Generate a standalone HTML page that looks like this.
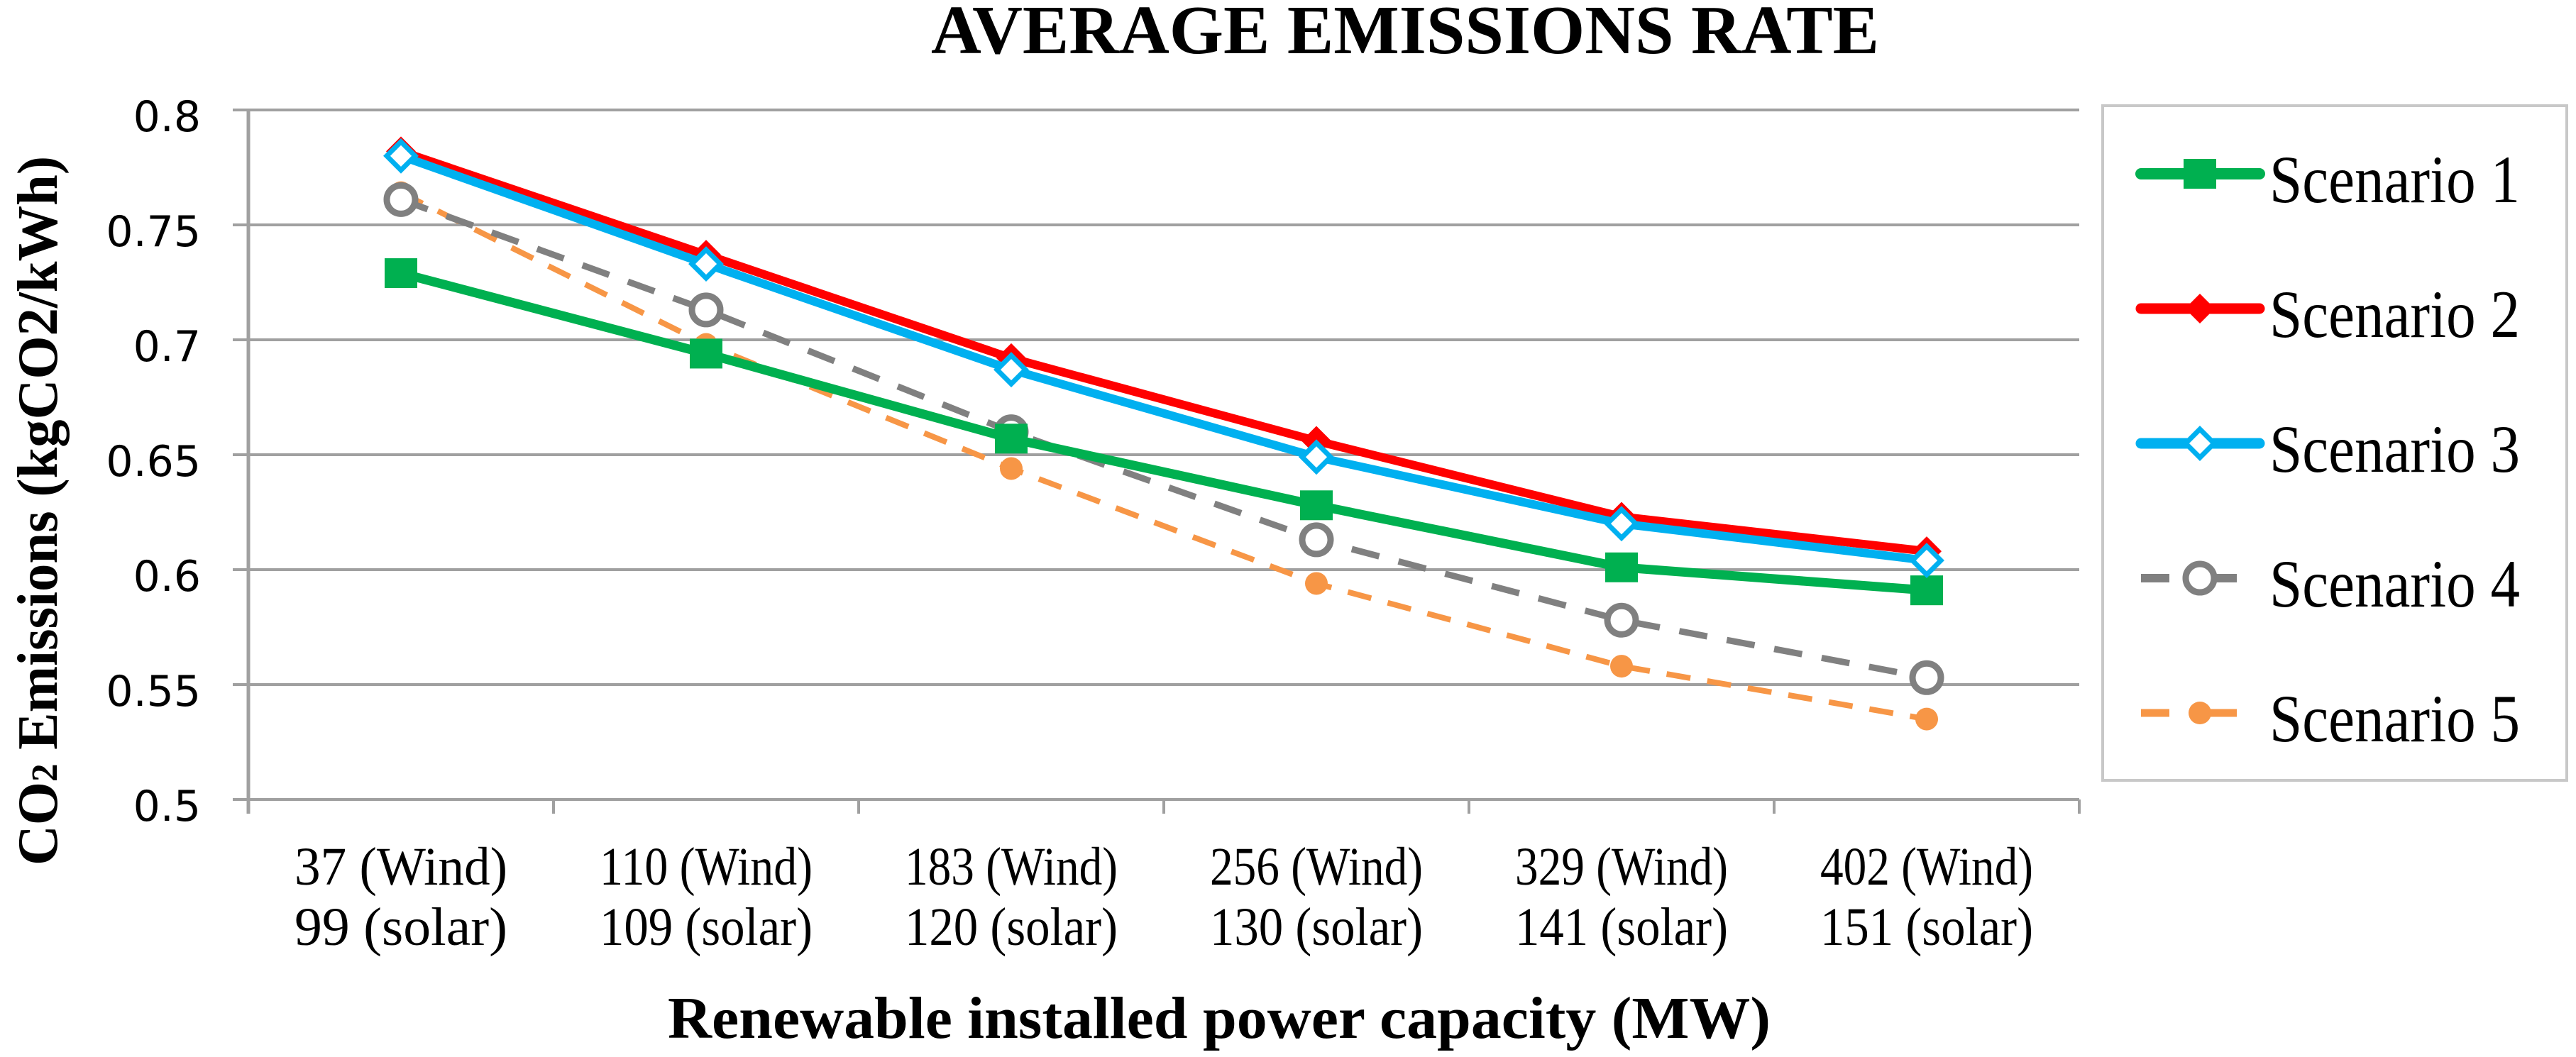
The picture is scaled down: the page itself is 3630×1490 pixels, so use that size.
<!DOCTYPE html>
<html>
<head>
<meta charset="utf-8">
<style>
  html, body { margin: 0; padding: 0; background: #ffffff; }
  svg { display: block; }
</style>
</head>
<body>
<svg id="chart" xmlns="http://www.w3.org/2000/svg" width="3630" height="1490" viewBox="0 0 3630 1490">
  <rect x="0" y="0" width="3630" height="1490" fill="#ffffff"/>
  <text x="1980" y="75" text-anchor="middle" font-family="Liberation Serif, serif" font-weight="bold" font-size="98" textLength="1336" lengthAdjust="spacingAndGlyphs">AVERAGE EMISSIONS RATE</text>
  <g id="grid"></g>
  <g id="axes"></g>
  <g id="series"></g>
  <text transform="translate(80,720) rotate(-90)" text-anchor="middle" font-family="Liberation Serif, serif" font-weight="bold" font-size="80" textLength="1000" lengthAdjust="spacingAndGlyphs">CO<tspan font-size="52">2</tspan> Emissions (kgCO2/kWh)</text>
  <text x="1718" y="1463" text-anchor="middle" font-family="Liberation Serif, serif" font-weight="bold" font-size="84" textLength="1554" lengthAdjust="spacingAndGlyphs">Renewable installed power capacity (MW)</text>
  <g id="legend"></g>
</svg>
<script>
const categoriesWind = ["37 (Wind)", "110 (Wind)", "183 (Wind)", "256 (Wind)", "329 (Wind)", "402 (Wind)"];
const categoriesSolar = ["99 (solar)", "109 (solar)", "120 (solar)", "130 (solar)", "141 (solar)", "151 (solar)"];
const yTicks = [0.5, 0.55, 0.6, 0.65, 0.7, 0.75, 0.8];
const yTickLabels = ["0.5", "0.55", "0.6", "0.65", "0.7", "0.75", "0.8"];
const seriesNames = ["Scenario 1", "Scenario 2", "Scenario 3", "Scenario 4", "Scenario 5"];
const scenario1 = [0.729, 0.694, 0.657, 0.628, 0.601, 0.591];
const scenario2 = [0.782, 0.737, 0.692, 0.656, 0.623, 0.608];
const scenario3 = [0.780, 0.733, 0.687, 0.649, 0.620, 0.604];
const scenario4 = [0.761, 0.713, 0.660, 0.613, 0.578, 0.553];
const scenario5 = [0.764, 0.698, 0.644, 0.594, 0.558, 0.535];

const NS = "http://www.w3.org/2000/svg";
const X0 = 350, X1 = 2930, YTOP = 155, YBOT = 1127, YMIN = 0.5, YMAX = 0.8;
const catW = (X1 - X0) / categoriesWind.length;
function xPos(i) { return X0 + catW * (i + 0.5); }
function yPos(v) { return YBOT - (v - YMIN) / (YMAX - YMIN) * (YBOT - YTOP); }
function mk(tag, attrs, parent) {
  const el = document.createElementNS(NS, tag);
  for (const k in attrs) el.setAttribute(k, attrs[k]);
  parent.appendChild(el);
  return el;
}

const grid = document.getElementById("grid");
const axes = document.getElementById("axes");
yTicks.forEach((t, i) => {
  const y = yPos(t);
  const gl = mk("line", {x1: 328, x2: X1, y1: y, y2: y, stroke: "#a0a0a0", "stroke-width": 4}, grid);
  
  
  const lb = mk("text", {x: 283, y: y + 30, "text-anchor": "end", "font-family": "DejaVu Sans, sans-serif", "font-size": 60, fill: "#000"}, axes);
  lb.textContent = yTickLabels[i];
  
  
});
const yAxis = mk("line", {x1: X0, x2: X0, y1: YTOP, y2: YBOT + 20, stroke: "#a0a0a0", "stroke-width": 5}, axes);


for (let i = 0; i <= categoriesWind.length; i++) {
  const x = X0 + catW * i;
  const tk = mk("line", {x1: x, x2: x, y1: YBOT, y2: YBOT + 20, stroke: "#a0a0a0", "stroke-width": 4}, axes);
  
  
}
categoriesWind.forEach((c, i) => {
  const t1 = mk("text", {x: xPos(i), y: 1247, "text-anchor": "middle", "font-family": "Liberation Serif, serif", "font-size": 76, textLength: 300, lengthAdjust: "spacingAndGlyphs"}, axes);
  t1.textContent = c;
  
  
  const t2 = mk("text", {x: xPos(i), y: 1332, "text-anchor": "middle", "font-family": "Liberation Serif, serif", "font-size": 76, textLength: 300, lengthAdjust: "spacingAndGlyphs"}, axes);
  t2.textContent = categoriesSolar[i];
  
  
});

const styles = [
  {color: "#00b050", w: 13, dash: null, marker: "square"},
  {color: "#ff0000", w: 12, dash: null, marker: "diamond-filled"},
  {color: "#00b0f0", w: 12, dash: null, marker: "diamond-open"},
  {color: "#808080", w: 9, dash: "40 28", marker: "circle-open"},
  {color: "#f79646", w: 8, dash: "34 24", marker: "circle-filled"}
];
const allSeries = [scenario1, scenario2, scenario3, scenario4, scenario5];

function drawMarker(kind, cx, cy, color, parent) {
  let m;
  if (kind === "square") {
    m = mk("rect", {x: cx - 23, y: cy - 21, width: 46, height: 42, fill: color}, parent);
  } else if (kind === "diamond-filled") {
    m = mk("polygon", {points: `${cx},${cy-21} ${cx+21},${cy} ${cx},${cy+21} ${cx-21},${cy}`, fill: color}, parent);
  } else if (kind === "diamond-open") {
    m = mk("polygon", {points: `${cx},${cy-20} ${cx+20},${cy} ${cx},${cy+20} ${cx-20},${cy}`, fill: "#fff", stroke: color, "stroke-width": 7}, parent);
  } else if (kind === "circle-open") {
    m = mk("circle", {cx: cx, cy: cy, r: 20, fill: "#fff", stroke: color, "stroke-width": 9}, parent);
  } else {
    m = mk("circle", {cx: cx, cy: cy, r: 16, fill: color}, parent);
  }
  
  
}

const seriesG = document.getElementById("series");
const order = [4, 3, 0, 1, 2];
order.forEach(si => {
  const s = allSeries[si], st = styles[si];
  const g = mk("g", {}, seriesG);
  
  
  const pts = s.map((v, i) => xPos(i) + "," + yPos(v)).join(" ");
  const attrs = {points: pts, fill: "none", stroke: st.color, "stroke-width": st.w, "stroke-linejoin": "round"};
  if (st.dash) attrs["stroke-dasharray"] = st.dash;
  const pl = mk("polyline", attrs, g);
  
  
  s.forEach((v, i) => drawMarker(st.marker, xPos(i), yPos(v), st.color, g));
});

const legend = document.getElementById("legend");
const box = mk("rect", {x: 2963, y: 149, width: 654, height: 951, fill: "#fff", stroke: "#c8c8c8", "stroke-width": 4}, legend);


seriesNames.forEach((name, i) => {
  const st = styles[i];
  const y = 245 + 190 * i;
  const g = mk("g", {}, legend);
  
  
  const la = {x1: 3017, x2: 3184, y1: y, y2: y, stroke: st.color, "stroke-width": st.w + 3, "stroke-linecap": "round"};
  if (st.dash) { la["stroke-dasharray"] = "40 55"; la["stroke-linecap"] = "butt"; }
  const ln = mk("line", la, g);
  
  
  drawMarker(st.marker, 3100, y, st.color, g);
  const tx = mk("text", {x: 3198, y: y + 40, "font-family": "Liberation Serif, serif", "font-size": 95, textLength: 353, lengthAdjust: "spacingAndGlyphs"}, g);
  tx.textContent = name;
  
  
});
</script>
</body>
</html>
